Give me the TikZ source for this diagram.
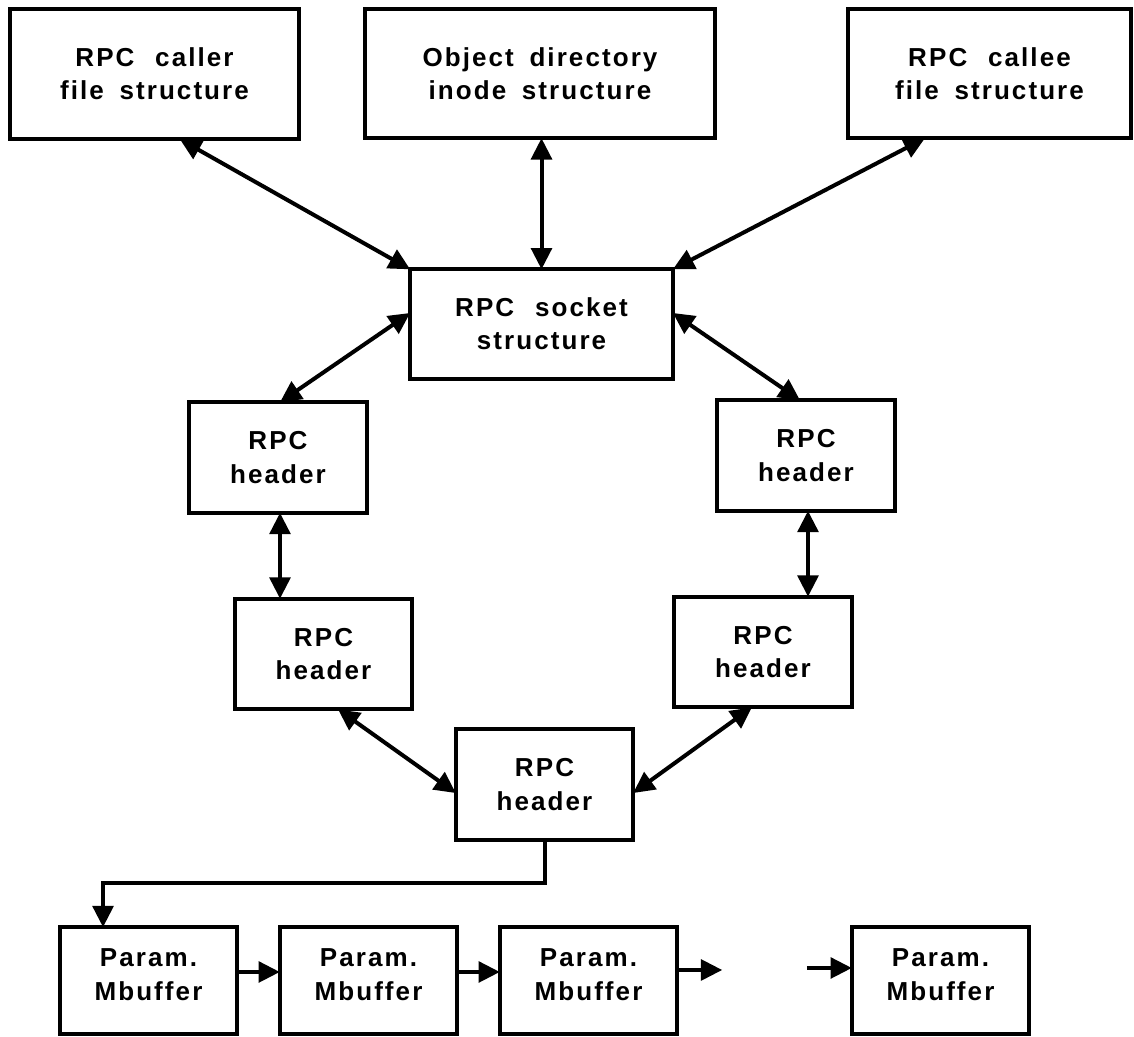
\documentclass[tikz,border=0pt]{standalone}
\usepackage{fontspec}
\setmainfont[LetterSpace=8]{Liberation Sans}
\usetikzlibrary{arrows.meta}
\newcommand\wsp{\hspace{0.8em}}
\newcommand\nsp{\hspace{0.6em}}
\begin{document}
\begin{tikzpicture}[x=0.75pt,y=-0.75pt,
  box/.style={draw, line width=3pt, inner sep=0pt, outer sep=0pt, align=center,
    font=\bfseries\fontsize{19.5pt}{25pt}\selectfont},
  hdr/.style={box, minimum width=133pt, minimum height=83pt},
  buf/.style={draw, line width=3pt, inner sep=0pt, outer sep=0pt,
    minimum width=133pt, minimum height=80pt},
  buftext/.style={align=center, font=\bfseries\fontsize{19.5pt}{26pt}\selectfont},
  link/.style={line width=3pt, >={Triangle[length=16pt,width=15.5pt]}}]
\useasboundingbox (0,0) rectangle (1134,1036);

% top row
\node[box, minimum width=217pt, minimum height=98pt] (caller) at (154.5,74) {RPC\wsp caller\\file\nsp structure};
\node[box, minimum width=262pt, minimum height=97pt] (objdir) at (540,73.5) {Object\nsp directory\\inode\nsp structure};
\node[box, minimum width=212pt, minimum height=97pt] (callee) at (989.5,73.5) {RPC\wsp callee\\file\nsp structure};

% socket
\node[box, minimum width=197pt, minimum height=82pt] (socket) at (541.5,324) {RPC\wsp socket\\structure};

% header chain
\node[hdr] (hl1) at (278,457.5) {RPC\\header};
\node[hdr] (hr1) at (806,455.5) {RPC\\header};
\node[hdr] (hl2) at (323.5,654) {RPC\\header};
\node[hdr] (hr2) at (763,652) {RPC\\header};
\node[hdr] (hb) at (544.5,784.5) {RPC\\header};

% parameter buffers
\foreach \n/\cx in {p1/148.5, p2/368.5, p3/588.5, p4/940.5}{
  \node[buf, label={[buftext, yshift=4.5pt]center:Param.\\Mbuffer}] (\n) at (\cx,980.5) {};
}

% connectors
\draw[link,<->] ([xshift=19.1pt]caller.south) -- (socket.north west);
\draw[link,<->] (socket.north |- objdir.south) -- (socket.north);
\draw[link,<->] ([xshift=-48.4pt]callee.south) -- (socket.north east);
\draw[link,<->] ([yshift=8.3pt]socket.west) -- ([xshift=1.5pt]hl1.north);
\draw[link,<->] ([yshift=8.3pt]socket.east) -- ([xshift=-4.5pt]hr1.north);
\draw[link,<->] ([xshift=1.5pt]hl1.south) -- ([xshift=1.5pt]hl1.south |- hl2.north);
\draw[link,<->] ([xshift=1.5pt]hr1.south) -- ([xshift=1.5pt]hr1.south |- hr2.north);
\draw[link,<->] ([xshift=10.9pt]hl2.south) -- ([yshift=-6.4pt]hb.west);
\draw[link,<->] ([xshift=-8.3pt]hr2.south) -- ([yshift=-6.4pt]hb.east);
\draw[link,->] (hb.south) -- ++(0,43) -| ([xshift=-34.1pt]p1.north);
\draw[link,->] ([yshift=6.4pt]p1.east) -- ([yshift=6.4pt]p2.west);
\draw[link,->] ([yshift=6.4pt]p2.east) -- ([yshift=6.4pt]p3.west);
\coordinate (gapl) at ([xshift=33.8pt,yshift=7.9pt]p3.east);
\coordinate (gapr) at ([xshift=-33.8pt,yshift=9.4pt]p4.west);
\draw[link,->] ([yshift=7.9pt]p3.east) -- (gapl);
\draw[link,->] (gapr) -- ([yshift=9.4pt]p4.west);
\end{tikzpicture}
\end{document}
